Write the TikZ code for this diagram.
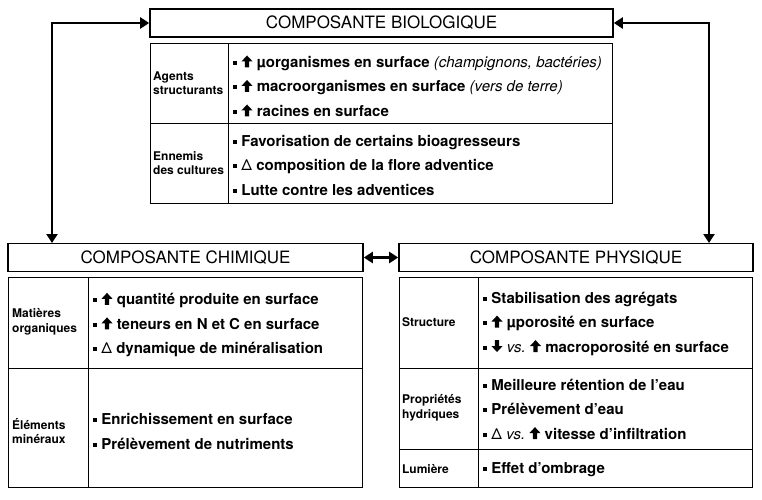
\documentclass[tikz,border=0pt]{standalone}
\usepackage{fontspec}
\setmainfont{TeX Gyre Heros}
\usetikzlibrary{arrows.meta, positioning, calc}

% fat arrows used in the lists
\newsavebox\upbox
\sbox\upbox{\tikz[x=1pt,y=1pt]\fill (-2.2,-0.3) -- (-2.2,5.6) -- (-5.6,5.6) -- (0,11.6) -- (5.6,5.6) -- (2.2,5.6) -- (2.2,-0.3) -- cycle;}
\newsavebox\dnbox
\sbox\dnbox{\tikz[x=1pt,y=1pt]\fill (-2.2,11.6) -- (-2.2,5.7) -- (-5.6,5.7) -- (0,-0.3) -- (5.6,5.7) -- (2.2,5.7) -- (2.2,11.6) -- cycle;}

\newcommand\sq{\rule[.3ex]{.5ex}{.5ex}}
\newcommand\upar{\usebox\upbox}
\newcommand\dnar{\usebox\dnbox}
\newcommand\dlt{{\mdseries Δ}}
\newcommand\versus{{\mdseries\itshape vs.}}

\tikzset{
    titlebox/.style={draw, line width=1.6pt, inner sep=0pt, minimum height=28pt,
        font=\fontsize{17}{20}\selectfont},
    cell/.style={draw, line width=0.8pt},
    rowlabel/.style={anchor=west, align=left, inner sep=0pt,
        font=\bfseries\fontsize{12}{14.5}\selectfont},
    items/.style={anchor=west, align=left, inner sep=0pt,
        font=\bfseries\fontsize{15}{24.5}\selectfont},
    link/.style={line width=2.4pt,
        {Triangle[length=9pt,width=11pt]}-{Triangle[length=9pt,width=11pt]}}
}

\begin{document}
\begin{tikzpicture}[x=1pt, y=-1pt]

    \useasboundingbox (0,0) rectangle (762,499);

    % titles
    \node[titlebox, minimum width=463pt] (bio)  at (381.5,23)  {COMPOSANTE BIOLOGIQUE};
    \node[titlebox, minimum width=355pt] (chem) at (185.5,257.5) {COMPOSANTE CHIMIQUE};
    \node[titlebox, minimum width=354pt] (phys) at (576,257.5) {COMPOSANTE PHYSIQUE};

    % biological table
    \draw[cell] (150,43) rectangle (612,203);
    \draw[cell] (228,43) -- (228,203);
    \draw[cell] (150,123) -- (612,123);
    \node[rowlabel] (agents) at (153,83) {Agents\\structurants};
    \node[rowlabel] (ennemis) at (153,163) {Ennemis\\des cultures};
    \node[items] (bioA) at (233,86) {\sq\ \upar\ µorganismes en surface {\mdseries\itshape (champignons, bactéries)}\\
        \sq\ \upar\ macroorganismes en surface {\mdseries\itshape (vers de terre)}\\
        \sq\ \upar\ racines en surface};
    \node[items] (bioB) at (233,165) {\sq\ Favorisation de certains bioagresseurs\\
        \sq\ \dlt\ composition de la flore adventice\\
        \sq\ Lutte contre les adventices};

    % chemical table
    \draw[cell] (8,277) rectangle (362,487);
    \draw[cell] (88,277) -- (88,487);
    \draw[cell] (8,368) -- (362,368);
    \node[rowlabel] (matieres) at (12,322) {Matières\\organiques};
    \node[rowlabel] (elements) at (12,431) {Éléments\\minéraux};
    \node[items] (chemA) at (93,325) {\sq\ \upar\ quantité produite en surface\\
        \sq\ \upar\ teneurs en N et C en surface\\
        \sq\ \dlt\ dynamique de minéralisation};
    \node[items] (chemB) at (93,431.5) {\sq\ Enrichissement en surface\\
        \sq\ Prélèvement de nutriments};

    % physical table
    \draw[cell] (399,277) rectangle (752,487);
    \draw[cell] (478,277) -- (478,487);
    \draw[cell] (399,368) -- (752,368);
    \draw[cell] (399,449) -- (752,449);
    \node[rowlabel] (structure) at (402,322) {Structure};
    \node[rowlabel] (hydriques) at (402,408) {Propriétés\\hydriques};
    \node[rowlabel] (lumiere) at (402,469) {Lumière};
    \node[items] (physA) at (483,323.5) {\sq\ Stabilisation des agrégats\\
        \sq\ \upar\ µporosité en surface\\
        \sq\ \dnar\ \versus\ \upar\ macroporosité en surface};
    \node[items] (physB) at (483,409) {\sq\ Meilleure rétention de l’eau\\
        \sq\ Prélèvement d’eau\\
        \sq\ \dlt\ \versus\ \upar\ vitesse d’infiltration};
    \node[items] (physC) at (483,470) {\sq\ Effet d’ombrage};

    % links
    \coordinate (chemin) at (52,243);
    \coordinate (physin) at (709,243);
    \draw[link] (bio.west) -| (chemin);
    \draw[link] (bio.east) -| (physin);
    \draw[link] (chem.east) -- (phys.west);

\end{tikzpicture}
\end{document}
